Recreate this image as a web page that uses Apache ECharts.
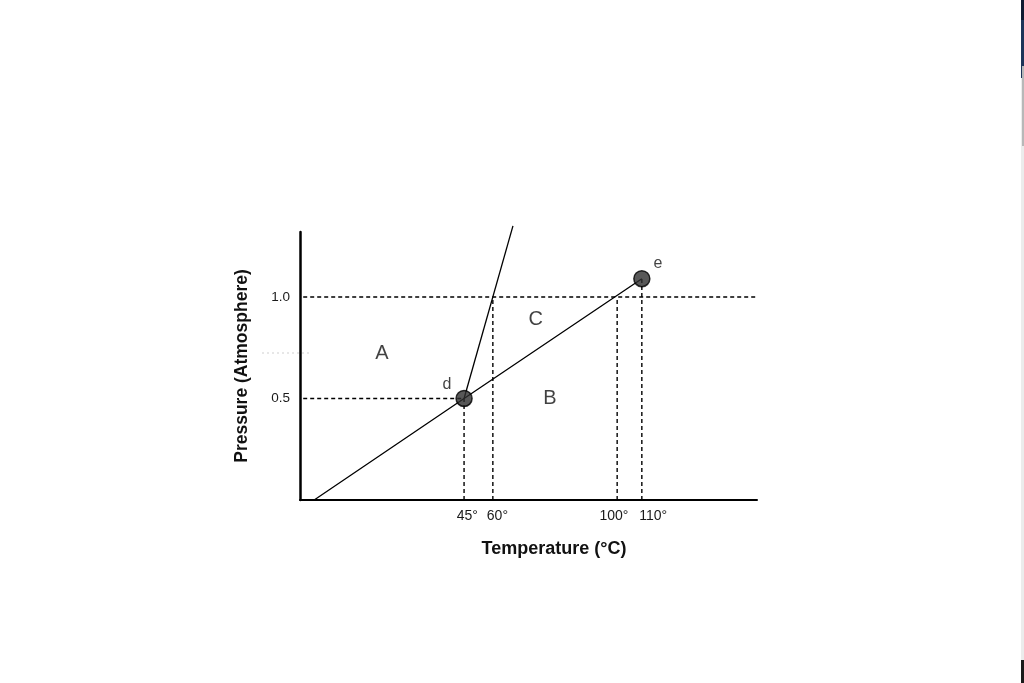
<!DOCTYPE html>
<html>
<head>
<meta charset="utf-8">
<script src="https://cdn.jsdelivr.net/npm/echarts@6/dist/echarts.min.js"></script>
<style>
html,body{margin:0;padding:0;background:#fff;}
#c{width:1024px;height:683px;}
</style>
</head>
<body>
<div id="c"></div>
<script>
// Schematic diagram: x axis is a non-linear schematic temperature scale (0-100 = left-right of plot)
var tempLabels = ['45°', '60°', '100°', '110°'];
var tempTickPos = [35.9, 42.2, 69.4, 74.8];     // schematic x of each marked temperature
var tempLabelPos = [36.6, 43.2, 68.7, 77.3];    // where the printed labels sit
var pressureTicks = [0.5, 1.0];

// phase boundaries
var vaporLine = [[3.1, 0], [35.9, 0.5], [74.8, 1.09]];   // origin -> d -> e
var meltLine = [[35.9, 0.5], [46.6, 1.35]];              // d -> upward
var pointD = [35.9, 0.5];
var pointE = [74.8, 1.09];

// guide lines (dashed)
var guide1atm = [[0.7, 1.0], [100, 1.0]];
var guideHalfAtm = [[0.7, 0.5], [35.9, 0.5]];
var guide45 = [[35.9, 0], [35.9, 0.5]];
var guide60 = [[42.2, 0], [42.2, 1.0]];
var guide100 = [[69.4, 0], [69.4, 1.0]];
var guide110 = [[74.8, 0], [74.8, 1.09]];

var regionLabels = [
  {name: 'A', value: [17.9, 0.724]},
  {name: 'B', value: [54.7, 0.502]},
  {name: 'C', value: [51.6, 0.887]}
];

var ink = '#111111';
var font = '"Liberation Sans", Arial, sans-serif';

function dashed(data) {
  return {
    type: 'line', data: data, symbol: 'none', silent: true, z: 2,
    lineStyle: {color: '#000', width: 1.4, type: [4, 3]}
  };
}

var chart = echarts.init(document.getElementById('c'), null, {renderer: 'canvas'});
chart.setOption({
  animation: false,
  backgroundColor: '#ffffff',
  grid: {left: 300, right: 267, top: 232, bottom: 183, containLabel: false},
  xAxis: {
    type: 'value', min: 0, max: 100,
    name: 'Temperature (°C)', nameLocation: 'middle', nameGap: 40,
    nameTextStyle: {fontFamily: font, fontWeight: 'bold', fontSize: 18, color: ink, padding: [0, 0, 0, 51]},
    axisLine: {show: true, onZero: false, lineStyle: {color: '#000', width: 2}},
    axisTick: {show: false},
    splitLine: {show: false},
    axisLabel: {
      customValues: tempLabelPos,
      margin: 9, fontFamily: font, fontSize: 14, color: '#1a1a1a',
      formatter: function (v) {
        var best = 0, bd = 1e9;
        for (var i = 0; i < tempLabelPos.length; i++) {
          var d = Math.abs(tempLabelPos[i] - v);
          if (d < bd) { bd = d; best = i; }
        }
        return tempLabels[best];
      }
    }
  },
  yAxis: {
    type: 'value', min: 0, max: 1.32,
    name: 'Pressure (Atmosphere)', nameLocation: 'middle', nameGap: 49, nameRotate: 90,
    nameTextStyle: {fontFamily: font, fontWeight: 'bold', fontSize: 17.5, color: ink},
    axisLine: {show: true, onZero: false, lineStyle: {color: '#000', width: 2.5}},
    axisTick: {show: false},
    splitLine: {show: false},
    axisLabel: {
      customValues: pressureTicks,
      margin: 10, fontFamily: font, fontSize: 13.5, color: '#1a1a1a',
      formatter: function (v) { return v.toFixed(1); }
    }
  },
  series: [
    dashed(guide1atm), dashed(guideHalfAtm), dashed(guide45),
    dashed(guide60), dashed(guide100), dashed(guide110),
    {
      type: 'line', data: vaporLine, symbol: 'none', silent: true, z: 3,
      lineStyle: {color: '#000', width: 1.3}
    },
    {
      type: 'line', data: meltLine, symbol: 'none', silent: true, z: 3, clip: false,
      lineStyle: {color: '#000', width: 1.3}
    },
    {
      type: 'scatter', z: 4, symbol: 'circle', symbolSize: 16, silent: true,
      itemStyle: {color: '#2e2e2e', borderColor: '#000', borderWidth: 1.5},
      data: [
        {value: pointD, label: {show: true, formatter: 'd', position: 'left', offset: [1, -14]}},
        {value: pointE, label: {show: true, formatter: 'e', position: 'right', offset: [-2, -15]}}
      ],
      label: {fontFamily: font, fontSize: 16, color: ink}
    },
    {
      type: 'scatter', z: 4, symbolSize: 0, silent: true,
      data: regionLabels,
      label: {show: true, position: 'inside', formatter: '{b}', fontFamily: font, fontSize: 20, color: ink}
    }
  ],
  graphic: [
    // faint scan artifacts
    {type: 'line', shape: {x1: 262, y1: 353, x2: 312, y2: 353}, style: {stroke: '#cfcfcf', lineWidth: 1, lineDash: [2, 3]}},
    {type: 'rect', shape: {x: 1021, y: 0, width: 3, height: 683}, style: {fill: '#ececec'}},
    {type: 'rect', shape: {x: 1021, y: 0, width: 3, height: 20}, style: {fill: '#0e1a30'}},
    {type: 'rect', shape: {x: 1021, y: 20, width: 3, height: 58}, style: {fill: '#1d3458'}},
    {type: 'rect', shape: {x: 1022, y: 66, width: 2, height: 80}, style: {fill: '#b8b8b8'}},
    {type: 'rect', shape: {x: 1021, y: 660, width: 3, height: 23}, style: {fill: '#1a1a1a'}}
  ]
});
</script>
</body>
</html>
